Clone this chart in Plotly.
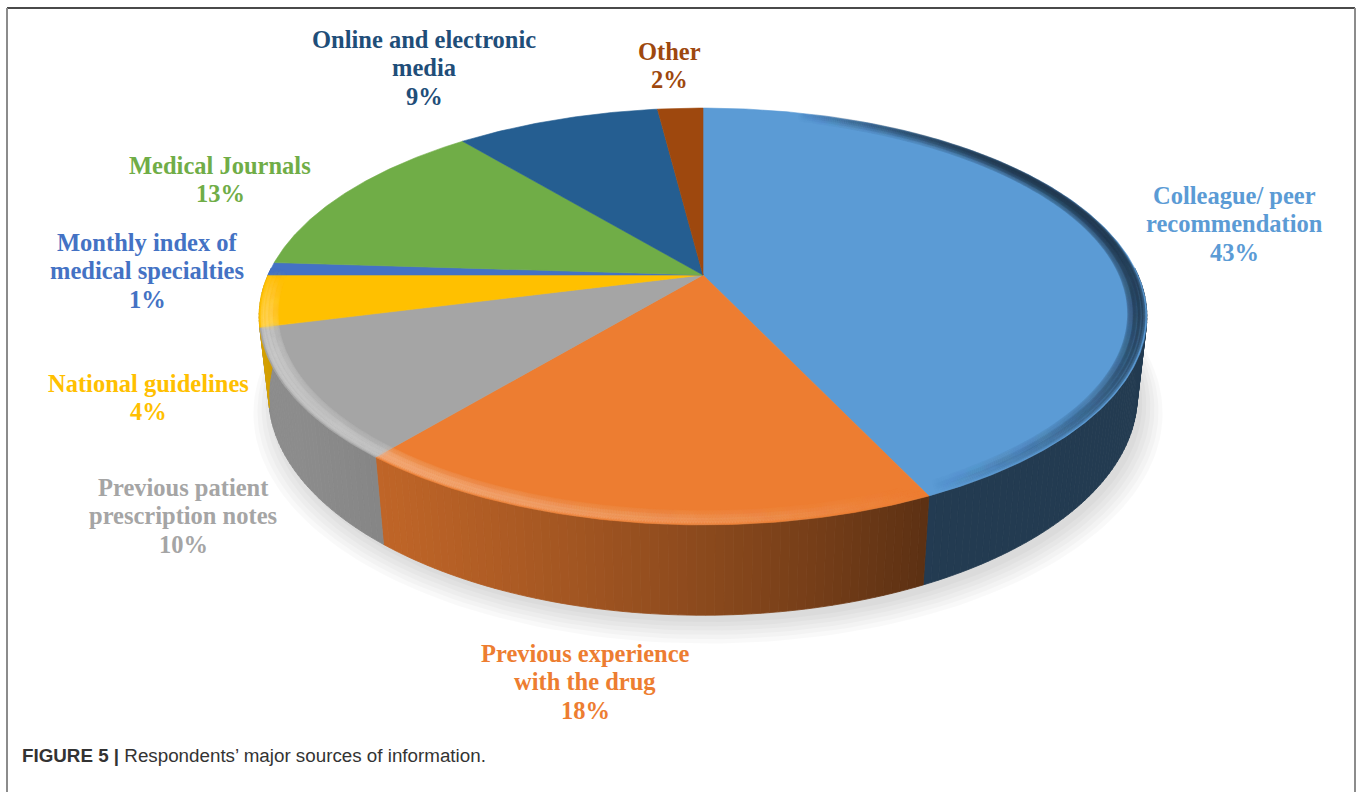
import numpy as np
import plotly.graph_objects as go

# ---- data -------------------------------------------------------------
categories = [
    "Colleague/ peer<br>recommendation",
    "Previous experience<br>with the drug",
    "Previous patient<br>prescription notes",
    "National guidelines",
    "Monthly index of<br>medical specialties",
    "Medical Journals",
    "Online and electronic<br>media",
    "Other",
]
shares = [43, 18, 10, 4, 1, 13, 9, 2]

# ---- styling ----------------------------------------------------------
slice_colors = ["#5B9BD5", "#ED7D31", "#A5A5A5", "#FFC000",
                "#4472C4", "#70AD47", "#255E91", "#9E480E"]
label_colors = ["#5B9BD5", "#ED7D31", "#A5A5A5", "#FFC000",
                "#4472C4", "#70AD47", "#1F4E79", "#9E480E"]
# centre of the first text line of each label (pixels)
label_pos = [(1234, 195), (585, 653), (183, 487), (148, 383),
             (147, 242), (220, 165), (424, 39), (669, 51)]

W, H = 1357, 792
LINE_GAP = 28.5
LABEL_FONT = dict(family="Liberation Serif, Times New Roman, serif", size=24.5)

# ---- simple perspective camera for the tilted disc -------------------
PHI = np.radians(27.4)
DIST = 4.46
SCALE = 1940.0
CX, CY = 703.0, 275.0
DEPTH = 0.206
cam = np.array([0.0, DIST * np.sin(PHI), DIST * np.cos(PHI)])
fwd = -cam / np.linalg.norm(cam)
right = np.array([1.0, 0.0, 0.0])
up = np.array([0.0, np.cos(PHI), -np.sin(PHI)])
LIGHT = np.array([-0.9, 0.0, 0.44])


def project(theta_deg, r=1.0, y=0.0):
    t = np.radians(np.atleast_1d(theta_deg).astype(float))
    P = np.stack([r * np.sin(t), np.full_like(t, y), -r * np.cos(t)], axis=-1)
    v = P - cam
    d = v @ fwd
    return CX + SCALE * (v @ right) / d, CY - SCALE * (v @ up) / d


def hex_rgb(h):
    h = h.lstrip("#")
    return np.array([int(h[i:i + 2], 16) for i in (0, 2, 4)], dtype=float)


def rgb(c):
    c = np.clip(c, 0, 255).round().astype(int)
    return f"rgb({c[0]},{c[1]},{c[2]})"


def facing(theta_deg):
    t = np.radians(theta_deg)
    n = np.array([np.sin(t), 0.0, -np.cos(t)])
    return float(n @ LIGHT)


fig = go.Figure()

# soft shadow under the disc, falling down and to the right
for k in range(6):
    th = np.linspace(0, 360, 241)
    sx, sy = project(th, r=1.0 + 0.009 * k, y=-DEPTH)
    fig.add_trace(go.Scatter(
        x=sx + 5, y=sy + 7 + 1.3 * k, mode="lines", fill="toself",
        fillcolor="rgba(0,0,0,0.022)", line=dict(width=0),
        hoverinfo="skip", showlegend=False))

bounds = np.concatenate([[0], np.cumsum(shares)]) * 3.6

# outer wall, front half only, shaded strip by strip
for i, c in enumerate(slice_colors):
    a0, a1 = max(bounds[i], 88.0), min(bounds[i + 1], 272.0)
    if a1 <= a0:
        continue
    base = hex_rgb(c)
    steps = np.linspace(a0, a1, max(2, int(np.ceil((a1 - a0) / 1.0)) + 1))
    for t0, t1 in zip(steps[:-1], steps[1:]):
        f = 0.38 + 0.47 * max(0.0, facing(0.5 * (t0 + t1)))
        col = rgb(base * f)
        tx, ty = project([t0, t1], y=0.0)
        bx, by = project([t1, t0], y=-DEPTH)
        fig.add_trace(go.Scatter(
            x=np.r_[tx, bx, tx[0]], y=np.r_[ty, by, ty[0]],
            mode="lines", fill="toself", fillcolor=col,
            line=dict(color=col, width=0.8),
            hoverinfo="skip", showlegend=False))

# top faces
for i, c in enumerate(slice_colors):
    th = np.linspace(bounds[i], bounds[i + 1], max(3, int(shares[i] * 7)))
    ax, ay = project(th)
    fig.add_trace(go.Scatter(
        x=np.r_[CX, ax, CX], y=np.r_[CY, ay, CY],
        mode="lines", fill="toself", fillcolor=c,
        line=dict(color=c, width=0.6),
        hoverinfo="skip", showlegend=False))

# rounded rim: soft highlight on the lit side, soft shade on the other,
# built from a few overlapping bands so the edge fades inward
rim_bands = [(0.968, 10, 0.10), (0.978, 8, 0.16), (0.986, 6, 0.24), (0.993, 4, 0.34)]
for rad, size, strength in rim_bands:
    for i, c in enumerate(slice_colors):
        a0, a1 = max(bounds[i], 15.0), min(bounds[i + 1], 272.0)
        if a1 <= a0:
            continue
        base = hex_rgb(c)
        th = np.arange(a0, a1, 0.3)
        cols, alphas = [], []
        for t in th:
            m = facing(t)
            fade = min(1.0, (t - 15.0) / 40.0, (272.0 - t) / 25.0)
            cc = base + (255 - base) * 0.45 if m > 0 else base * 0.35
            cols.append(rgb(cc))
            alphas.append(max(0.0, strength * abs(m) * fade))
        rx, ry = project(th, r=rad)
        fig.add_trace(go.Scatter(
            x=rx, y=ry, mode="markers",
            marker=dict(size=size, color=cols, opacity=alphas, line=dict(width=0)),
            hoverinfo="skip", showlegend=False))

# slice labels
for name, v, col, (lx, ly) in zip(categories, shares, label_colors, label_pos):
    lines = name.split("<br>") + [f"{v}%"]
    for j, txt in enumerate(lines):
        fig.add_annotation(
            x=lx, y=ly + j * LINE_GAP, xref="x", yref="y",
            text=f"<b>{txt}</b>", showarrow=False,
            font=dict(color=col, **LABEL_FONT),
            xanchor="center", yanchor="middle")

# caption
fig.add_annotation(
    x=20, y=755, xref="x", yref="y", xanchor="left", yanchor="middle",
    text="<b>FIGURE 5 |</b> Respondents\u2019 major sources of information.",
    showarrow=False,
    font=dict(family="Liberation Sans, Arial, sans-serif", size=18.8, color="#333333"))

# frame
fig.add_shape(type="line", x0=7, x1=1355, y0=8, y1=8, xref="x", yref="y",
              line=dict(color="#4a4a4a", width=2))
fig.add_shape(type="line", x0=7, x1=7, y0=8, y1=792, xref="x", yref="y",
              line=dict(color="#8c8c8c", width=2))
fig.add_shape(type="line", x0=1355, x1=1355, y0=8, y1=792, xref="x", yref="y",
              line=dict(color="#8c8c8c", width=2))

fig.update_layout(
    width=W, height=H, autosize=False,
    margin=dict(l=0, r=0, t=0, b=0),
    paper_bgcolor="white", plot_bgcolor="white",
    showlegend=False,
    xaxis=dict(range=[0, W], visible=False, fixedrange=True),
    yaxis=dict(range=[H, 0], visible=False, fixedrange=True),
)

fig.write_html("out.html", config=dict(displayModeBar=False))
